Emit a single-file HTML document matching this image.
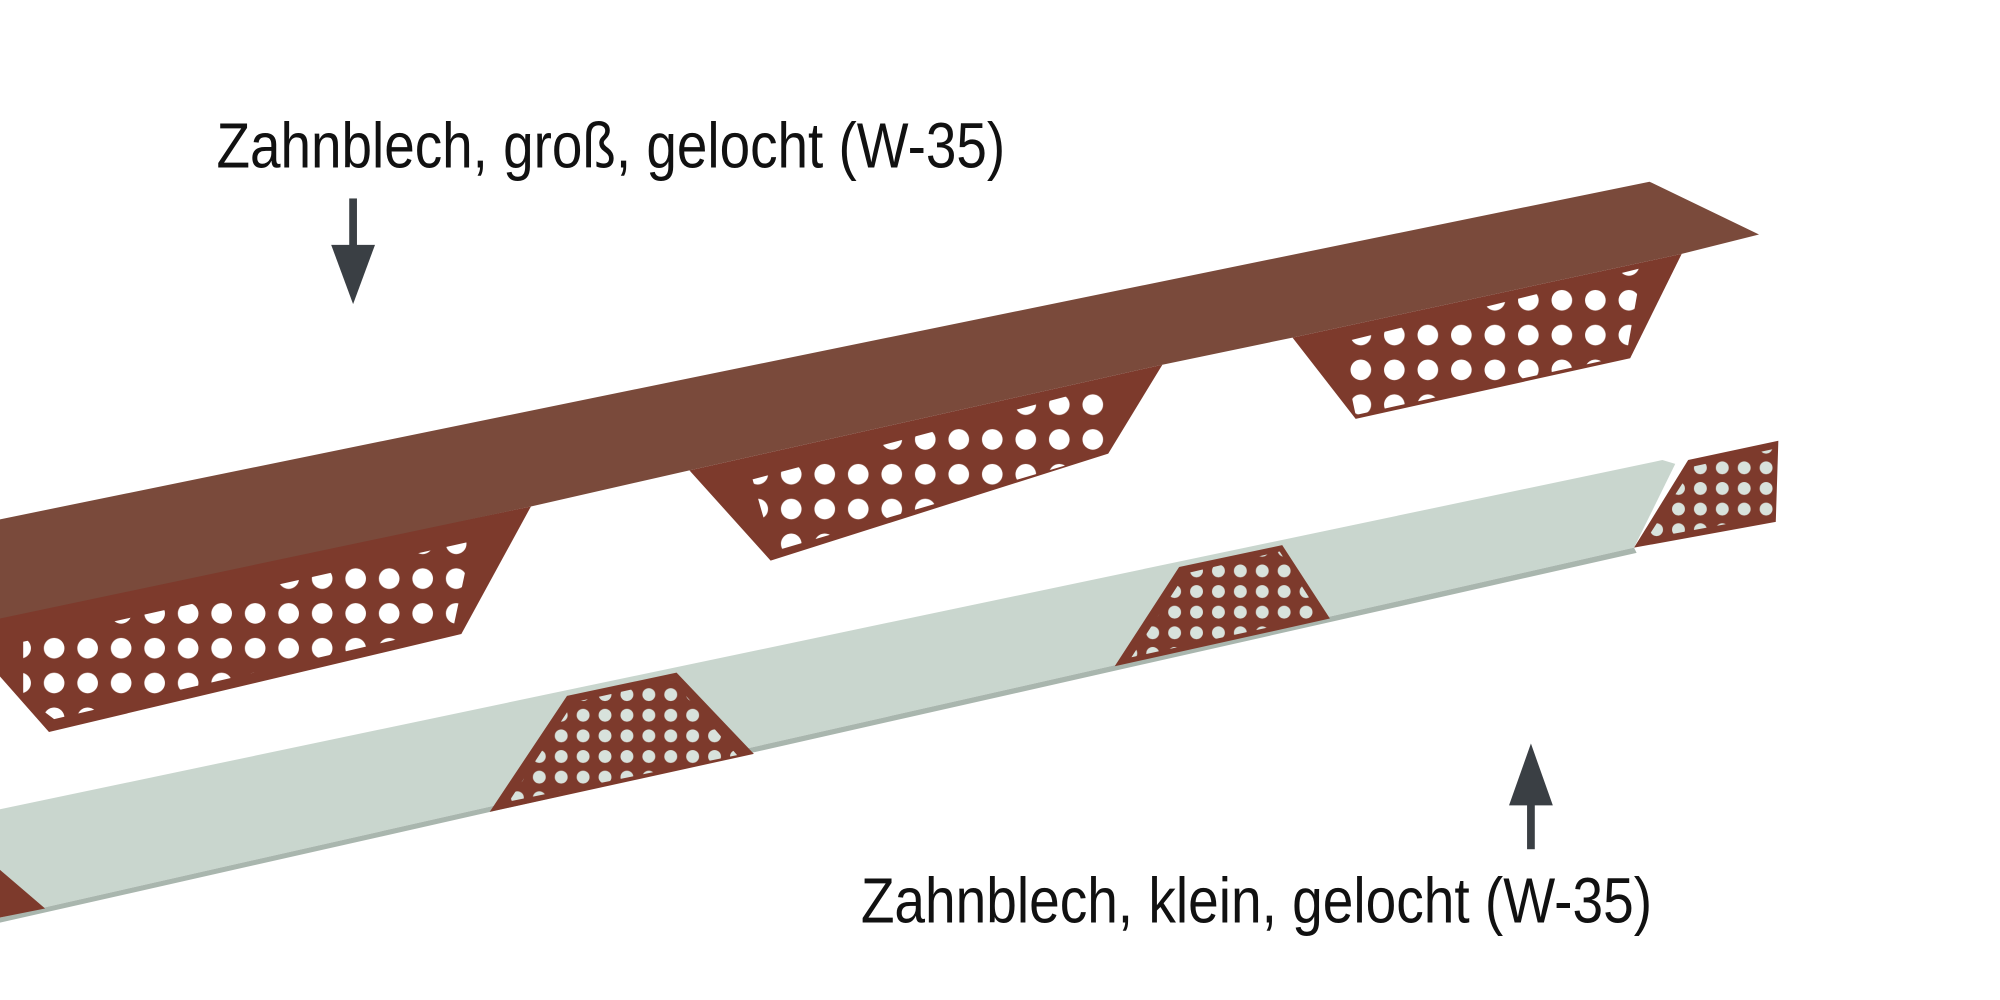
<!DOCTYPE html>
<html><head><meta charset="utf-8"><style>
html,body{margin:0;padding:0;background:#fff;width:2000px;height:1000px;overflow:hidden}
svg{display:block}
</style></head><body>
<svg width="2000" height="1000" viewBox="0 0 1552 776" xmlns="http://www.w3.org/2000/svg">
<defs>
<pattern id="hb" patternUnits="userSpaceOnUse" width="26" height="27" x="3" y="4">
<rect width="26" height="27" fill="#7d3a2c"/>
<circle cx="13" cy="13" r="8" fill="#fff"/>
</pattern>
<pattern id="hs" patternUnits="userSpaceOnUse" width="17" height="16" x="2" y="3">
<rect width="17" height="16" fill="#7d3a2c"/>
<circle cx="8.5" cy="8" r="5" fill="#d8e2dc"/>
</pattern>
</defs>
<!-- large strip teeth -->
<polygon points="0,478 412,393 358,492 38,568 0,525" fill="#7d3a2c"/>
<polygon points="18,498 366,420 352,486 42,558 18,540" fill="url(#hb)"/>
<polygon points="535,365 902,283 860,352 598,435" fill="#7d3a2c"/>
<polygon points="584,372 864,298 858,352 600,428" fill="url(#hb)"/>
<polygon points="1003,262 1305,197 1265,278 1052,325" fill="#7d3a2c"/>
<polygon points="1040,266 1274,208 1262,276 1052,322" fill="url(#hb)"/>
<!-- large strip band -->
<polygon points="0,403 1280,141 1365,182 1305,197 1003,262 902,283 535,365 412,393 0,480" fill="#7a4a3b"/>
<!-- small strip -->
<polygon points="0,628 1290,357 1300,360 1268,425 0,712" fill="#c9d6ce"/>
<polygon points="0,712 1268,425 1270,429 0,716" fill="#a9b6ae"/>
<polygon points="380,630 440,540 525,522 585,585" fill="#7d3a2c"/>
<polygon points="395,622 445,545 522,528 572,586" fill="url(#hs)"/>
<polygon points="865,517 915,440 995,423 1032,480" fill="#7d3a2c"/>
<polygon points="878,510 920,445 993,428 1025,478" fill="url(#hs)"/>
<polygon points="1268,425 1310,357 1380,342 1378,405" fill="#7d3a2c"/>
<polygon points="1278,418 1314,362 1378,348 1376,400" fill="url(#hs)"/>
<polygon points="0,675 35,705 0,712" fill="#7d3a2c"/>
<!-- arrows -->
<rect x="271" y="154" width="6" height="38" fill="#3a3f44"/>
<polygon points="257,190 291,190 274,236" fill="#3a3f44"/>
<rect x="1185" y="622" width="6" height="37" fill="#3a3f44"/>
<polygon points="1171,625 1205,625 1188,577" fill="#3a3f44"/>
<!-- labels -->
<text x="168" y="130" font-family="Liberation Sans, sans-serif" font-size="50" fill="#111" textLength="612" lengthAdjust="spacingAndGlyphs">Zahnblech, groß, gelocht (W-35)</text>
<text x="668" y="716" font-family="Liberation Sans, sans-serif" font-size="50" fill="#111" textLength="614" lengthAdjust="spacingAndGlyphs">Zahnblech, klein, gelocht (W-35)</text>
</svg>
</body></html>
